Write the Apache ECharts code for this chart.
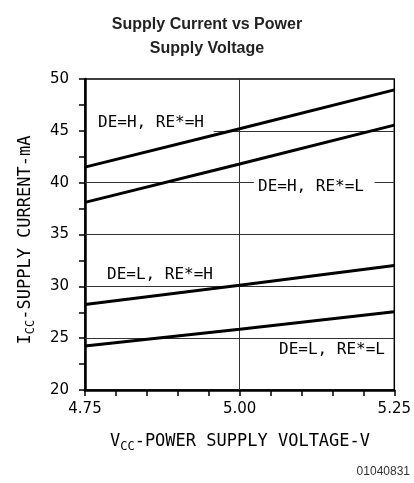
<!DOCTYPE html>
<html>
<head>
<meta charset="utf-8">
<script src="https://cdn.jsdelivr.net/npm/echarts@6/dist/echarts.min.js"></script>
<style>
html, body { margin: 0; padding: 0; background: #fff; }
#chart { width: 414px; height: 483px; }
</style>
</head>
<body>
<div id="chart"></div>
<script>
// supply voltage (V) where the curves were read
const voltages = [4.75, 5.00, 5.25];
// supply current (mA) for each DE / RE* state
const deH_reH = [41.5, 45.2, 48.95];
const deH_reL = [38.1, 41.8, 45.55];
const deL_reH = [28.25, 30.1, 32.0];
const deL_reL = [24.25, 25.85, 27.55];
const curveNames = ["DE=H, RE*=H", "DE=H, RE*=L", "DE=L, RE*=H", "DE=L, RE*=L"];
const xTickLabels = [4.75, 5.0, 5.25];
const yTickLabels = [20, 25, 30, 35, 40, 45, 50];

const monoFont = "DejaVu Sans Mono";
const tickFont = "DejaVu Sans";

function pairs(ys) {
  return voltages.map((v, i) => [v, ys[i]]);
}

// grid lines, some of them broken where the curve labels sit
const gridSegments = [
  [[4.75, 25], [5.25, 25]],
  [[4.75, 30], [5.25, 30]],
  [[4.75, 35], [5.25, 35]],
  [[4.75, 40], [5.023, 40]],
  [[5.218, 40], [5.25, 40]],
  [[4.958, 45], [5.25, 45]],
  [[5.0, 20], [5.0, 50]],
];

function curve(name, ys) {
  return {
    name: name,
    type: "line",
    data: pairs(ys),
    symbol: "none",
    silent: true,
    lineStyle: { color: "#000", width: 3 },
    z: 5,
  };
}

let chart = echarts.init(document.getElementById("chart"));
chart.setOption({
  animation: false,
  backgroundColor: "#fff",
  title: {
    text: "Supply Current vs Power\nSupply Voltage",
    left: "center",
    top: 8,
    textStyle: {
      fontFamily: "Liberation Sans",
      fontWeight: "bold",
      fontSize: 16,
      lineHeight: 24,
      color: "#222",
    },
  },
  grid: {
    left: 85,
    right: 18,
    top: 79,
    bottom: 93,
    show: true,
    borderColor: "#000",
    borderWidth: 1.5,
  },
  xAxis: {
    type: "value",
    min: 4.75,
    max: 5.25,
    interval: 0.05,
    axisLine: { show: true, onZero: false, lineStyle: { color: "#000", width: 2.5 } },
    axisTick: { show: true, length: 6, lineStyle: { color: "#000", width: 1.5 } },
    splitLine: { show: false },
    axisLabel: {
      margin: 12,
      color: "#000",
      fontFamily: tickFont,
      fontSize: 15,
      formatter: function (v) {
        const hit = xTickLabels.find((t) => Math.abs(t - v) < 1e-6);
        return hit === undefined ? "" : hit.toFixed(2);
      },
    },
  },
  yAxis: {
    type: "value",
    min: 20,
    max: 50,
    interval: 2.5,
    axisLine: { show: true, onZero: false, lineStyle: { color: "#000", width: 2.5 } },
    axisTick: { show: true, length: 6, lineStyle: { color: "#000", width: 1.5 } },
    splitLine: { show: false },
    axisLabel: {
      margin: 16,
      color: "#000",
      fontFamily: tickFont,
      fontSize: 15,
      formatter: function (v) {
        return yTickLabels.indexOf(v) >= 0 ? String(v) : "";
      },
    },
  },
  series: [
    {
      type: "line",
      data: [],
      silent: true,
      markLine: {
        silent: true,
        symbol: "none",
        label: { show: false },
        lineStyle: { color: "#333", width: 1, type: "solid" },
        data: gridSegments.map((s) => [{ coord: s[0] }, { coord: s[1] }]),
      },
    },
    curve(curveNames[0], deH_reH),
    curve(curveNames[1], deH_reL),
    curve(curveNames[2], deL_reH),
    curve(curveNames[3], deL_reL),
  ],
  graphic: [
    { type: "text", x: 98, y: 123, style: { text: curveNames[0], font: "16px " + monoFont, fill: "#000", align: "left", verticalAlign: "middle" } },
    { type: "text", x: 258, y: 187, style: { text: curveNames[1], font: "16px " + monoFont, fill: "#000", align: "left", verticalAlign: "middle" } },
    { type: "text", x: 107, y: 275, style: { text: curveNames[2], font: "16px " + monoFont, fill: "#000", align: "left", verticalAlign: "middle" } },
    { type: "text", x: 279, y: 350, style: { text: curveNames[3], font: "16px " + monoFont, fill: "#000", align: "left", verticalAlign: "middle" } },
    {
      type: "text",
      x: 26,
      y: 240,
      rotation: Math.PI / 2,
      style: {
        text: "{n|I}{s|CC}{n|-SUPPLY CURRENT-mA}",
        align: "center",
        verticalAlign: "middle",
        fill: "#000",
        rich: {
          n: { fontFamily: monoFont, fontSize: 17, lineHeight: 18, fill: "#000" },
          s: { fontFamily: monoFont, fontSize: 12, lineHeight: 12, padding: [10, 0, 0, 0], fill: "#000" },
        },
      },
    },
    {
      type: "text",
      x: 240,
      y: 442,
      style: {
        text: "{n|V}{s|CC}{n|-POWER SUPPLY VOLTAGE-V}",
        align: "center",
        verticalAlign: "middle",
        fill: "#000",
        rich: {
          n: { fontFamily: monoFont, fontSize: 17, lineHeight: 18, fill: "#000" },
          s: { fontFamily: monoFont, fontSize: 12, lineHeight: 12, padding: [10, 0, 0, 0], fill: "#000" },
        },
      },
    },
    {
      type: "text",
      x: 410,
      y: 472,
      style: { text: "01040831", font: "12px Liberation Sans", fill: "#333", align: "right", verticalAlign: "middle" },
    },
  ],
});
</script>
</body>
</html>
